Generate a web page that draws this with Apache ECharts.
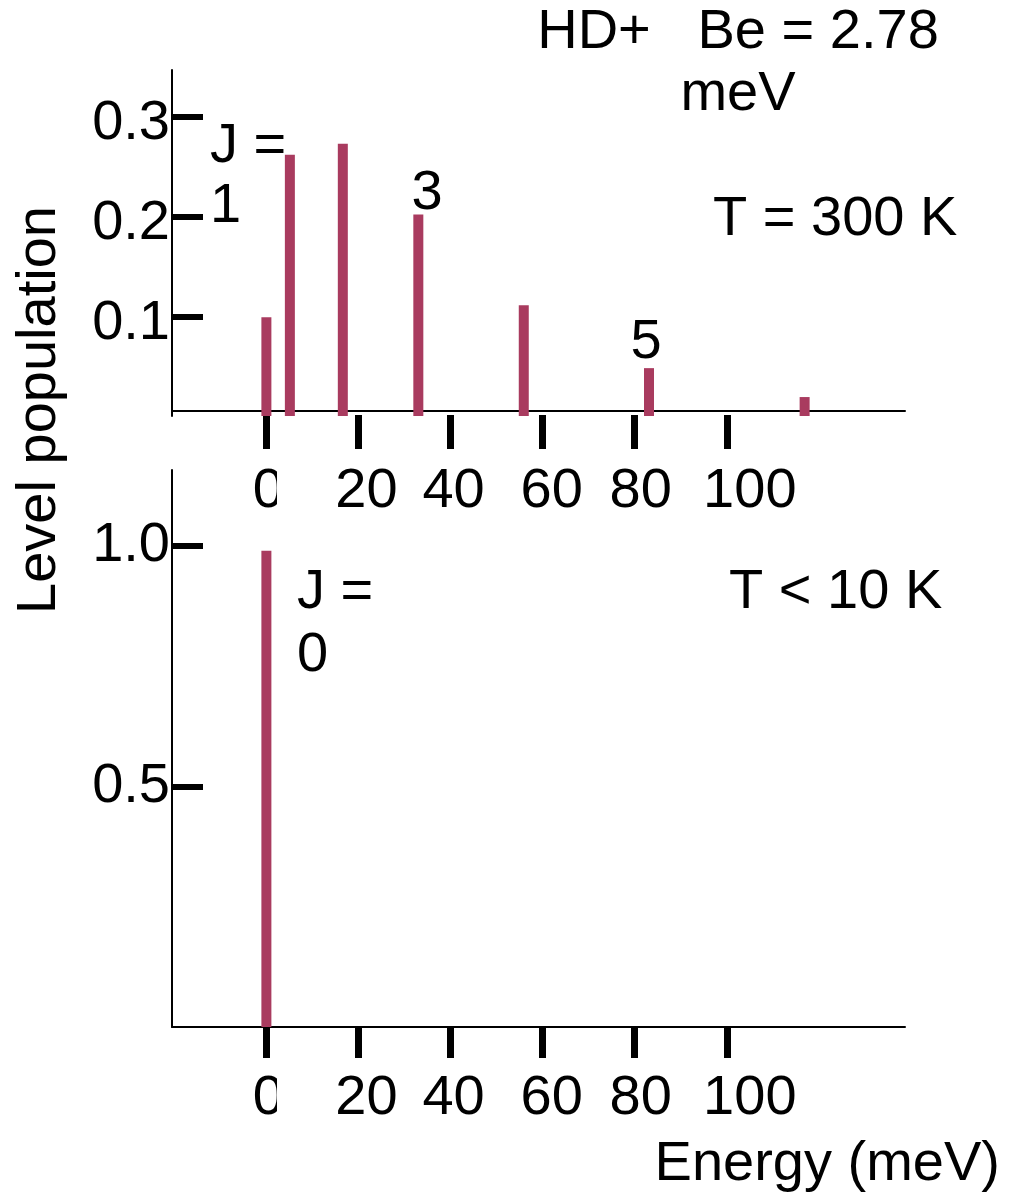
<!DOCTYPE html>
<html>
<head>
<meta charset="utf-8">
<script src="https://cdn.jsdelivr.net/npm/echarts@6/dist/echarts.min.js"></script>
<style>
  html, body { margin: 0; padding: 0; background: #fff; }
  #chart { width: 1024px; height: 1199px; }
</style>
</head>
<body>
<div id="chart"></div>
<script>
const FONT = "'Liberation Sans', Arial, sans-serif";
const BAR_COLOR = "#a93b5f";

// energies of the J levels (meV)
const LEVEL_ENERGY = [0, 5.1, 16.6, 33.0, 55.9, 83.1, 116.9];
// populations at T = 300 K
const POP_300K = [0.099, 0.262, 0.273, 0.202, 0.111, 0.048, 0.019];
// populations at T < 10 K (only J = 0)
const COLD_ENERGY = [0];
const POP_COLD = [0.99];

const X_TICKS = [0, 20, 40, 60, 80, 100];
const Y_TICKS_TOP = [0.1, 0.2, 0.3];
const Y_TICKS_BOTTOM = [0.5, 1.0];

const X_MIN = -20.5;
const X_MAX = 138.7;

// the tick labels sit a bit right of their ticks, unevenly (left pad in px)
const LABEL_PAD = { 0: 4, 20: 16, 40: 6, 60: 18, 80: 12, 100: 46 };

function pairs(xs, ys) {
  return xs.map((x, i) => [x, ys[i]]);
}

function lineAxis(gridIndex, offset) {
  return {
    type: "value", gridIndex, min: X_MIN, max: X_MAX, offset, position: "bottom",
    axisLine: { show: true, onZero: false, lineStyle: { color: "#000", width: 2 } },
    axisTick: { show: false },
    axisLabel: { show: false },
    splitLine: { show: false }
  };
}

const xRich = {};
X_TICKS.forEach((v) => {
  xRich["p" + v] = { fontFamily: FONT, fontSize: 56, color: "#000", padding: [0, 0, 0, LABEL_PAD[v]] };
});

function tickAxis(gridIndex, offset, tickLen, margin) {
  return {
    type: "value", gridIndex, min: X_MIN, max: X_MAX, offset, position: "bottom",
    axisLine: { show: false, onZero: false },
    axisTick: { show: true, length: tickLen, customValues: X_TICKS,
      lineStyle: { color: "#000", width: 7 } },
    axisLabel: { show: true, customValues: X_TICKS, margin,
      fontFamily: FONT, fontSize: 56, color: "#000",
      formatter: (v) => "{p" + v + "|" + v + "}",
      rich: xRich },
    splitLine: { show: false }
  };
}

function yAxis(gridIndex, max, ticks, vAlign, lineHeight) {
  return {
    type: "value", gridIndex, min: 0, max, position: "left",
    axisLine: { show: true, onZero: false, lineStyle: { color: "#000", width: 2 } },
    axisTick: { show: true, inside: true, length: 31, customValues: ticks,
      lineStyle: { color: "#000", width: 6 } },
    axisLabel: { show: true, customValues: ticks, margin: 2,
      fontFamily: FONT, fontSize: 56, color: "#000",
      verticalAlign: vAlign, lineHeight,
      formatter: (v) => v.toFixed(1) },
    splitLine: { show: false }
  };
}

function txt(text, x, y, align, lineHeight, extra) {
  return Object.assign({
    type: "text", x, y,
    style: { text, font: "56px " + FONT, fill: "#000",
      align, verticalAlign: "middle", lineHeight: lineHeight || 62 }
  }, extra || {});
}

// white patch that cuts the right half off the "0" tick label, as in the original
function mask(y) {
  return { type: "rect", z: 100, shape: { x: 277, y, width: 12, height: 60 },
    style: { fill: "#fff" } };
}

const chart = echarts.init(document.getElementById("chart"), null, { renderer: "canvas" });

chart.setOption({
  animation: false,
  backgroundColor: "#fff",
  grid: [
    { left: 172, top: 70, width: 733, height: 346, outerBoundsMode: "none", containLabel: false },
    { left: 172, top: 470, width: 733, height: 557, outerBoundsMode: "none", containLabel: false }
  ],
  xAxis: [
    lineAxis(0, -5),
    tickAxis(0, -1, 34, 49),
    lineAxis(1, 0),
    tickAxis(1, 1, 30, 43)
  ],
  yAxis: [
    yAxis(0, 0.347, Y_TICKS_TOP, "top", 14),
    yAxis(1, 1.158, Y_TICKS_BOTTOM, "middle", 56)
  ],
  series: [
    {
      type: "bar", xAxisIndex: 0, yAxisIndex: 0, barWidth: 10,
      itemStyle: { color: BAR_COLOR },
      data: pairs(LEVEL_ENERGY, POP_300K)
    },
    {
      type: "bar", xAxisIndex: 2, yAxisIndex: 1, barWidth: 10,
      itemStyle: { color: BAR_COLOR },
      data: pairs(COLD_ENERGY, POP_COLD)
    }
  ],
  graphic: [
    txt("HD+   Be = 2.78\nmeV", 738, 64, "center"),
    txt("T = 300 K", 713, 220, "left"),
    txt("J =\n1", 210, 177, "left", 60),
    txt("3", 427, 194, "center"),
    txt("5", 646, 343, "center"),
    txt("J =\n0", 297, 624, "left", 63),
    txt("T < 10 K", 729, 593, "left"),
    txt("Energy (meV)", 1000, 1165, "right"),
    txt("Level population", 40, 410, "center", 62, { rotation: Math.PI / 2 }),
    mask(465),
    mask(1072)
  ]
});
</script>
</body>
</html>
